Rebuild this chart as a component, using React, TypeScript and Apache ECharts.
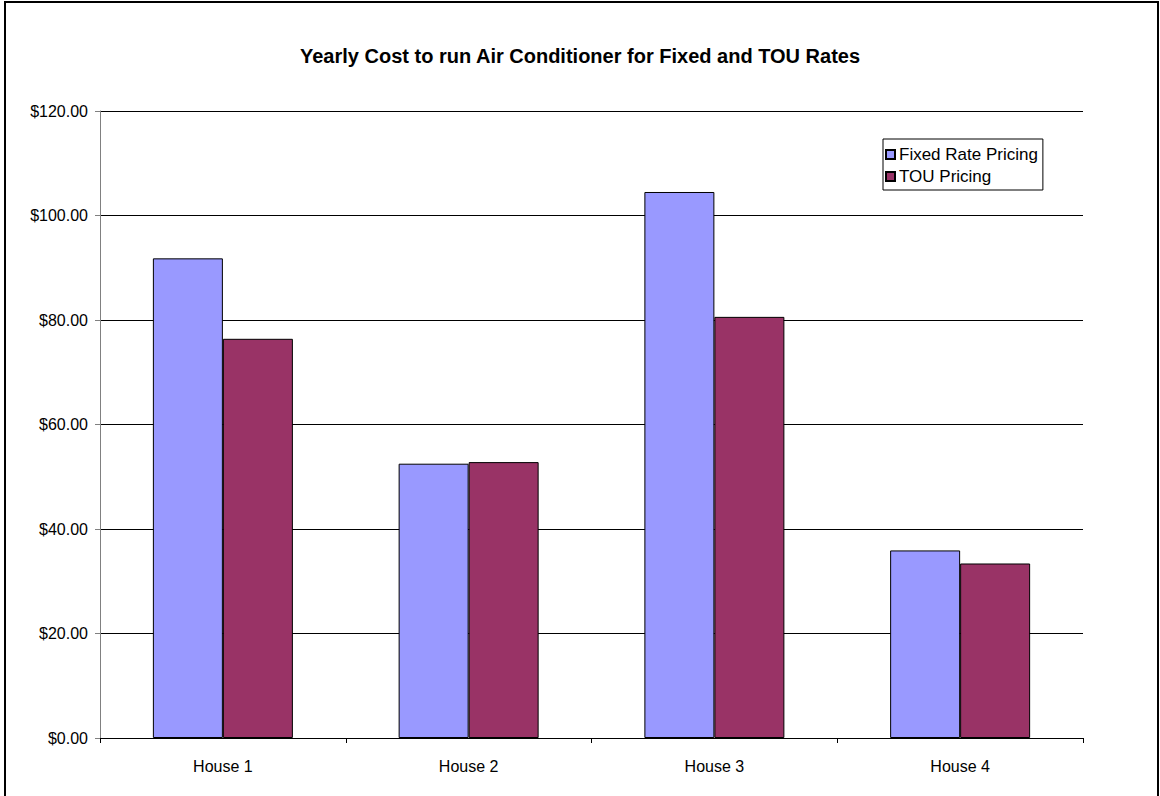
import React, { useEffect, useRef } from "react";
import * as echarts from "echarts";

const categories = ["House 1", "House 2", "House 3", "House 4"];
const fixedRate = [91.8, 52.5, 104.5, 35.9];
const touRate = [76.4, 52.8, 80.6, 33.4];
const seriesNames = ["Fixed Rate Pricing", "TOU Pricing"];
const titleText = "Yearly Cost to run Air Conditioner for Fixed and TOU Rates";

export default function App() {
  const ref = useRef<HTMLDivElement>(null);
  useEffect(() => {
    if (!ref.current) return;
    const chart = echarts.init(ref.current, null, { renderer: "svg" });
    const font = "Arial, 'Liberation Sans', sans-serif";
    chart.setOption({
      animation: false,
      backgroundColor: "#ffffff",
      title: {
        text: titleText,
        left: "center",
        top: 41,
        textStyle: { fontFamily: font, fontSize: 20, fontWeight: "bold", color: "#000" },
      },
      legend: {
        orient: "vertical",
        left: 883,
        top: 139,
        padding: [7, 5, 5, 2],
        itemGap: 5,
        itemWidth: 9,
        itemHeight: 9,
        borderColor: "#000",
        borderWidth: 1,
        borderRadius: 0,
        icon: "rect",
        data: seriesNames,
        textStyle: { fontFamily: font, fontSize: 17, color: "#000", lineHeight: 17, padding: [0, 0, 0, -1] },
      },
      grid: { left: 100, right: 77, top: 111, bottom: 58, containLabel: false },
      xAxis: {
        type: "category",
        data: categories,
        axisLine: { lineStyle: { color: "#000", width: 1 } },
        axisTick: { show: true, length: 5, lineStyle: { color: "#000" } },
        axisLabel: { fontFamily: font, fontSize: 16, color: "#000", margin: 20 },
      },
      yAxis: {
        type: "value",
        min: 0,
        max: 120,
        interval: 20,
        axisLine: { show: true, lineStyle: { color: "#808080", width: 1 } },
        axisTick: { show: true, length: 5, lineStyle: { color: "#808080" } },
        splitLine: { show: true, lineStyle: { color: "#000", width: 1 } },
        axisLabel: {
          fontFamily: font,
          fontSize: 16,
          color: "#000",
          margin: 12,
          formatter: (v: number) => "$" + v.toFixed(2),
        },
      },
      series: [
        {
          name: seriesNames[0],
          type: "bar",
          data: fixedRate,
          barWidth: 70,
          barGap: "0%",
          itemStyle: { color: "#9999FF", borderColor: "#000", borderWidth: 1 },
        },
        {
          name: seriesNames[1],
          type: "bar",
          data: touRate,
          barWidth: 70,
          barGap: "0%",
          itemStyle: { color: "#993366", borderColor: "#000", borderWidth: 1 },
        },
      ],
      graphic: [
        {
          type: "rect",
          shape: { x: 5, y: 2, width: 1153, height: 810 },
          style: { fill: "none", stroke: "#000", lineWidth: 2 },
          silent: true,
        },
      ],
    });
    return () => chart.dispose();
  }, []);
  return (
    <div
      ref={ref}
      style={{ position: "fixed", left: 0, top: 0, width: 1160, height: 796 }}
    />
  );
}
